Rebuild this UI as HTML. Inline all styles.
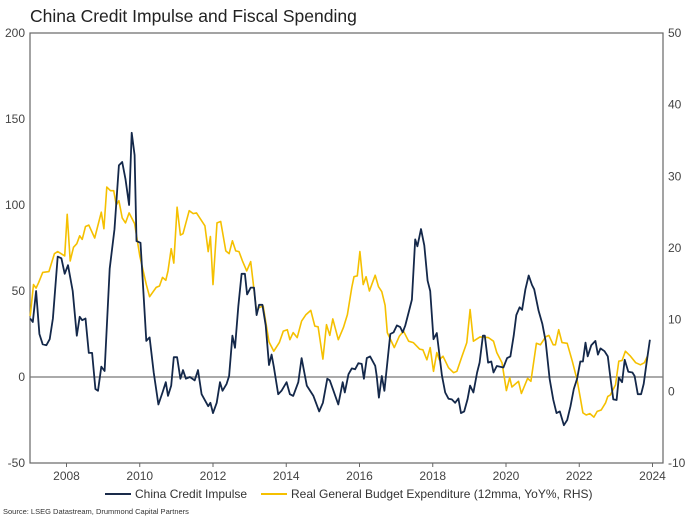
<!DOCTYPE html>
<html><head><meta charset="utf-8"><style>
body{margin:0;background:#fff;}
svg{display:block;font-family:"Liberation Sans",Arial,sans-serif;}
</style></head><body>
<svg id="chart" width="689" height="517" viewBox="0 0 689 517">
<text x="30" y="22" font-size="17.5" fill="#222">China Credit Impulse and Fiscal Spending</text>
<g id="axes"></g>
<g id="series"></g>
<g>
<line x1="105" y1="494" x2="131" y2="494" stroke="#1a2b4a" stroke-width="2"/>
<text x="135" y="498" font-size="12" fill="#333">China Credit Impulse</text>
<line x1="261" y1="494" x2="287" y2="494" stroke="#f5c000" stroke-width="2"/>
<text x="291" y="498" font-size="12" fill="#333">Real General Budget Expenditure (12mma, YoY%, RHS)</text>
</g>
<text x="3" y="514" font-size="7.5" fill="#333">Source: LSEG Datastream, Drummond Capital Partners</text>
</svg>
<script>
const xTicks=[2008,2010,2012,2014,2016,2018,2020,2022,2024];
const leftTicks=[200,150,100,50,0,-50];
const rightTicks=[50,40,30,20,10,0,-10];
const creditYears=[2007.01,2007.08,2007.17,2007.26,2007.35,2007.45,2007.54,2007.63,2007.76,2007.86,2007.95,2008.04,2008.17,2008.28,2008.36,2008.43,2008.52,2008.61,2008.70,2008.79,2008.86,2008.95,2009.04,2009.18,2009.31,2009.43,2009.52,2009.61,2009.71,2009.78,2009.86,2009.91,2010.02,2010.18,2010.27,2010.38,2010.51,2010.62,2010.71,2010.77,2010.86,2010.93,2011.02,2011.11,2011.18,2011.26,2011.37,2011.50,2011.59,2011.69,2011.87,2011.93,2012.00,2012.10,2012.19,2012.26,2012.37,2012.44,2012.53,2012.60,2012.69,2012.78,2012.87,2012.93,2013.03,2013.12,2013.19,2013.26,2013.35,2013.44,2013.53,2013.60,2013.66,2013.78,2013.87,2014.01,2014.10,2014.19,2014.33,2014.42,2014.56,2014.74,2014.90,2015.00,2015.12,2015.19,2015.29,2015.42,2015.54,2015.60,2015.70,2015.79,2015.88,2015.97,2016.06,2016.12,2016.20,2016.29,2016.43,2016.47,2016.53,2016.61,2016.68,2016.84,2016.93,2017.02,2017.11,2017.18,2017.25,2017.36,2017.43,2017.52,2017.58,2017.68,2017.77,2017.86,2017.93,2018.02,2018.11,2018.25,2018.34,2018.43,2018.52,2018.61,2018.70,2018.77,2018.86,2018.95,2019.02,2019.11,2019.21,2019.28,2019.37,2019.42,2019.51,2019.60,2019.66,2019.75,2019.84,2019.93,2020.03,2020.12,2020.21,2020.28,2020.37,2020.44,2020.53,2020.62,2020.71,2020.77,2020.89,2020.99,2021.08,2021.19,2021.29,2021.38,2021.47,2021.58,2021.67,2021.76,2021.85,2021.94,2022.03,2022.10,2022.17,2022.23,2022.33,2022.44,2022.51,2022.58,2022.69,2022.78,2022.85,2022.93,2023.02,2023.08,2023.17,2023.24,2023.34,2023.45,2023.51,2023.60,2023.69,2023.76,2023.84,2023.93];
const creditValues=[34,32,50,25,19,18.5,22,34,70,69,60,65,50,24,35,33,34,14,14,-7,-8,6,3.5,63,86,123,125,115,100,142,129,79,78,21,23,2.7,-16,-9,-3,-11,-5,11.5,11.5,-1,4,-1,0,-2,4,-10,-17,-15,-21,-15,-3,-8,-4,0.6,24,17,41,60,60,48,52,52,36,42,42,30,7,13,6,-10,-8,-3,-10,-11,-3,11,-5,-11,-20,-15,-1,-2,-8,-16,-3,-9,1.6,5,4.5,8,7.6,-1,11,12,6.5,0.6,-12,0.6,-8,25,26,30,29,26,30,39,45,80,76,86,76.5,56,50,22,25.5,1,-9,-12.6,-13,-15,-12.5,-21,-20,-13,-5,-9,2.6,8.4,24,24,8.4,9,2.6,6.4,6,5.5,11,12,24,36,40.5,39,51,59,53.5,51,38.5,31,21,-1,-13,-21,-20,-28,-25,-17,-7,-1,9,9,20,12,18.5,21,13,16.6,15,12,-0.4,-13,-13.4,-0.4,-3,10,3,2.6,0.6,-10,-10,-4,8.4,21.6];
const fiscalYears=[2007.01,2007.10,2007.17,2007.24,2007.35,2007.52,2007.67,2007.76,2007.95,2008.02,2008.10,2008.19,2008.28,2008.36,2008.43,2008.52,2008.61,2008.77,2008.95,2009.02,2009.10,2009.20,2009.29,2009.36,2009.43,2009.52,2009.61,2009.71,2009.86,2010.00,2010.18,2010.27,2010.45,2010.54,2010.62,2010.71,2010.77,2010.86,2010.93,2011.02,2011.11,2011.18,2011.35,2011.46,2011.55,2011.78,2011.87,2011.93,2012.00,2012.11,2012.21,2012.35,2012.44,2012.53,2012.62,2012.71,2012.81,2012.92,2013.03,2013.19,2013.26,2013.37,2013.53,2013.66,2013.81,2013.92,2014.03,2014.10,2014.19,2014.30,2014.42,2014.54,2014.67,2014.78,2014.87,2015.00,2015.10,2015.19,2015.27,2015.42,2015.56,2015.67,2015.79,2015.85,2015.94,2016.01,2016.10,2016.18,2016.27,2016.43,2016.52,2016.61,2016.70,2016.76,2016.95,2017.09,2017.20,2017.34,2017.47,2017.64,2017.73,2017.84,2017.93,2018.02,2018.11,2018.18,2018.28,2018.43,2018.57,2018.66,2018.80,2018.93,2019.02,2019.11,2019.29,2019.52,2019.66,2019.75,2019.89,2020.01,2020.10,2020.16,2020.34,2020.42,2020.59,2020.68,2020.83,2020.94,2021.08,2021.17,2021.29,2021.35,2021.44,2021.53,2021.67,2021.81,2021.94,2022.03,2022.10,2022.19,2022.29,2022.40,2022.49,2022.60,2022.72,2022.78,2022.85,2022.99,2023.08,2023.17,2023.26,2023.40,2023.54,2023.67,2023.78,2023.86];
const fiscalValues=[10.5,14.9,14.4,15.2,16.6,16.7,19.2,19.5,18.9,24.7,18.2,20.1,20.6,21.7,21.2,23,23.2,21.4,25,22.7,28.5,28,28,26,26.6,24.2,23.5,24.9,23.4,18.9,14.9,13.2,14.5,14.7,15.9,15.5,16.8,19.9,17.9,25.7,21.8,22,25.2,24.8,24.9,23.1,19.5,21.6,14.9,23.5,23.7,19.6,19.2,21,19.6,19.5,18.1,16.8,18.1,11.1,11.7,11.9,6.9,5.6,6.8,8.4,8.6,7.2,8.2,7.5,9.8,10.7,11.3,9.1,9,4.5,9.3,7.8,10.1,7.2,8.9,10.7,14.5,16,16.1,19.5,14.9,16,14,16.2,14.6,13.9,12,8.2,6.1,7.7,8.4,7,6.8,5.9,5.8,4.4,6.1,2.8,5.4,4.4,4.9,3.3,2.6,2.8,4.9,6.8,11.4,7,7.6,7.5,7,5.4,4,0.1,1.9,0.6,1.4,-0.3,1.8,1.4,6.7,6.5,7.6,7.8,6.5,6.5,8.6,6.8,6.7,4.2,1.6,-0.9,-3,-3.3,-3.1,-3.6,-2.8,-2.6,-1.6,-0.7,-0.5,0.9,4.2,4.3,5.6,4.9,4,3.7,4,4.9];

const L=30,R=663,T=33,B=463;
function xs(yr){return 66.5+(yr-2008)*(652.5-66.5)/16;}
function yl(v){return T+(200-v)*(B-T)/250;}
function yr(v){return T+(50-v)*(B-T)/60;}
const NS='http://www.w3.org/2000/svg';
function mk(tag,attrs,parent){const e=document.createElementNS(NS,tag);for(const k in attrs)e.setAttribute(k,attrs[k]);parent.appendChild(e);return e;}
const axes=document.getElementById('axes');
const frame=mk('rect',{x:L,y:T,width:R-L,height:B-T,fill:'none',stroke:'#666','stroke-width':1.2},axes);


const zl=mk('line',{x1:L,x2:R,y1:yl(0),y2:yl(0),stroke:'#777','stroke-width':1.2},axes);


leftTicks.forEach(v=>{
  const t=mk('text',{x:L-5,y:yl(v)+4,'text-anchor':'end','font-size':12,fill:'#444'},axes);
  t.textContent=v;
  
  
});
rightTicks.forEach(v=>{
  const t=mk('text',{x:R+5,y:yr(v)+4,'text-anchor':'start','font-size':12,fill:'#444'},axes);
  t.textContent=v;
  
  
});
xTicks.forEach(v=>{
  const tk=mk('line',{x1:xs(v),x2:xs(v),y1:B,y2:B+4,stroke:'#666'},axes);
  
  
  const t=mk('text',{x:xs(v),y:B+17,'text-anchor':'middle','font-size':12,fill:'#444'},axes);
  t.textContent=v;
  
  
});
const ser=document.getElementById('series');
const fp=mk('polyline',{points:fiscalYears.map((y,i)=>xs(y).toFixed(1)+','+yr(fiscalValues[i]).toFixed(1)).join(' '),fill:'none',stroke:'#f5c000','stroke-width':1.6,'stroke-linejoin':'round'},ser);


const cp=mk('polyline',{points:creditYears.map((y,i)=>xs(y).toFixed(1)+','+yl(creditValues[i]).toFixed(1)).join(' '),fill:'none',stroke:'#14284a','stroke-width':1.8,'stroke-linejoin':'round'},ser);


</script>
</body></html>
